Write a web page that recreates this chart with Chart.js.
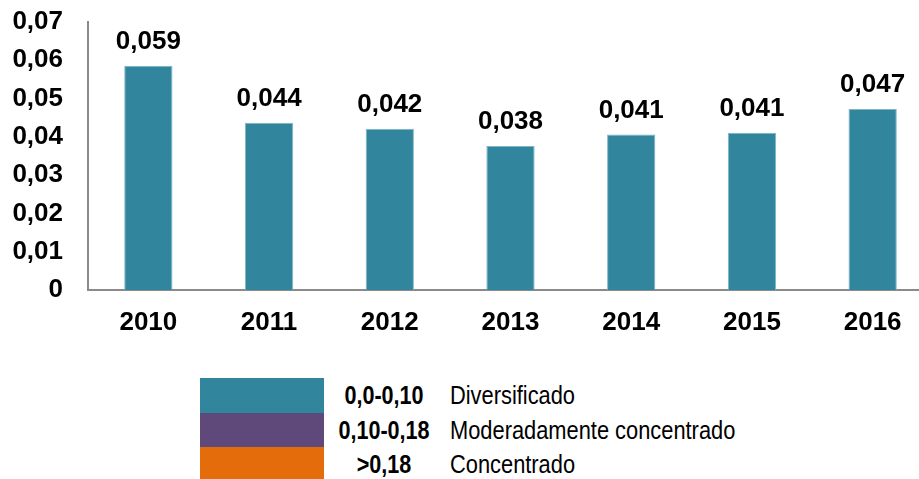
<!DOCTYPE html>
<html>
<head>
<meta charset="utf-8">
<script src="https://cdn.jsdelivr.net/npm/chart.js@4.4.1/dist/chart.umd.min.js"></script>
<style>
  html, body { margin: 0; padding: 0; width: 919px; height: 479px; overflow: hidden; background: #fff; }
  #wrap { position: absolute; left: 0; top: 0; width: 935px; height: 345px; }
  #legend { position: absolute; left: 200px; top: 378px; }
  .row { position: relative; height: 34.5px; }
  .sw { position: absolute; left: 0; top: 0; width: 124px; height: 100%; }
  .rng { position: absolute; left: 124px; width: 120px; top: 0; height: 100%; text-align: center;
         font: bold 26px 'Liberation Sans', Arial, sans-serif; color: #000; line-height: 34.5px;
         transform: scaleX(0.83); transform-origin: center; white-space: nowrap; }
  .lbl { position: absolute; left: 250px; top: 0; height: 100%; white-space: nowrap;
         font: 26px 'Liberation Sans', Arial, sans-serif; color: #000; line-height: 34.5px;
         transform: scaleX(0.84); transform-origin: left center; }
</style>
</head>
<body>
<div id="wrap"><canvas id="c" width="935" height="345"></canvas></div>
<div id="legend"></div>
<script>
const categories = ['2010', '2011', '2012', '2013', '2014', '2015', '2016'];
const values = [0.0586, 0.0437, 0.0421, 0.0376, 0.0406, 0.0411, 0.0473];
const yTicks = [0, 0.01, 0.02, 0.03, 0.04, 0.05, 0.06, 0.07];
const legendRanges = ['0,0-0,10', '0,10-0,18', '>0,18'];
const legendLabels = ['Diversificado', 'Moderadamente concentrado', 'Concentrado'];
const legendColors = ['#31859C', '#5F497A', '#E46C0A'];

const barColor = '#31859C';
const axisColor = '#8A8A8A';
const FONT = "'Liberation Sans', Arial, sans-serif";

function fmt(v) {
  if (v === 0) return '0';
  return v.toFixed(2).replace('.', ',');
}

const valueLabels = {
  id: 'valueLabels',
  afterDatasetsDraw(chart) {
    const ctx = chart.ctx;
    const meta = chart.getDatasetMeta(0);
    ctx.save();
    ctx.font = 'bold 26px ' + FONT;
    ctx.fillStyle = '#000';
    ctx.textAlign = 'center';
    ctx.textBaseline = 'alphabetic';
    meta.data.forEach((bar, i) => {
      const v = chart.data.datasets[0].data[i];
      ctx.fillText(v.toFixed(3).replace('.', ','), bar.x, bar.y - 17);
    });
    ctx.restore();
  }
};

new Chart(document.getElementById('c'), {
  type: 'bar',
  data: {
    labels: categories,
    datasets: [{
      data: values,
      backgroundColor: barColor,
      borderColor: '#7FB6C6',
      borderWidth: 1,
      barPercentage: 0.4,
      categoryPercentage: 1.0
    }]
  },
  options: {
    responsive: false,
    animation: false,
    devicePixelRatio: 1,
    layout: { padding: { top: 22, right: 2, left: 0, bottom: 0 } },
    plugins: { legend: { display: false }, tooltip: { enabled: false } },
    scales: {
      x: {
        grid: { display: false, drawTicks: false },
        border: { display: true, color: axisColor, width: 2 },
        ticks: { color: '#000', font: { family: FONT, size: 26, weight: 'bold' }, padding: 17, maxRotation: 0 },
        afterFit(s) { s.height = 55; s.paddingLeft = 0; s.paddingRight = 0; }
      },
      y: {
        min: 0,
        max: 0.07,
        grid: { display: false, drawTicks: false },
        border: { display: true, color: axisColor, width: 2 },
        afterBuildTicks(s) { s.ticks = yTicks.map(v => ({ value: v })); },
        ticks: {
          color: '#000',
          font: { family: FONT, size: 26, weight: 'bold' },
          padding: 25,
          callback: (v) => fmt(v)
        },
        afterFit(s) { s.width = 88; s.paddingTop = 0; s.paddingBottom = 0; }
      }
    }
  },
  plugins: [valueLabels]
});

const lg = document.getElementById('legend');
legendRanges.forEach((r, i) => {
  const row = document.createElement('div');
  row.className = 'row';
  const sw = document.createElement('div');
  sw.className = 'sw';
  sw.style.background = legendColors[i];
  const rng = document.createElement('div');
  rng.className = 'rng';
  rng.textContent = r;
  const lbl = document.createElement('div');
  lbl.className = 'lbl';
  lbl.textContent = legendLabels[i];
  row.appendChild(sw); row.appendChild(rng); row.appendChild(lbl);
  lg.appendChild(row);
});
</script>
</body>
</html>
